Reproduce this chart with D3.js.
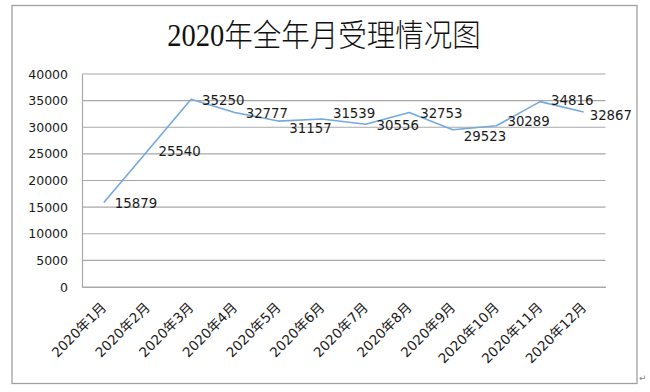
<!DOCTYPE html>
<html>
<head>
<meta charset="utf-8">
<script src="https://cdn.jsdelivr.net/npm/d3@7"></script>
<style>
  html, body { margin: 0; padding: 0; background: #fff; }
  svg { display: block; }
</style>
</head>
<body>
<svg id="chart" width="650" height="392"></svg>
<script>
// ---- data ----
const title = "2020年全年月受理情况图";
const months = ["2020年1月","2020年2月","2020年3月","2020年4月","2020年5月","2020年6月",
                "2020年7月","2020年8月","2020年9月","2020年10月","2020年11月","2020年12月"];
const values = [15879, 25540, 35250, 32777, 31157, 31539, 30556, 32753, 29523, 30289, 34816, 32867];
const yTicks = [0, 5000, 10000, 15000, 20000, 25000, 30000, 35000, 40000];

// ---- layout ----
const W = 650, H = 392;
const frame = { x: 12, y: 5.5, w: 625, h: 378 };
const plot = { left: 82, right: 605.5, top: 74, bottom: 287 };
const latin = "'DejaVu Sans', 'Noto Sans CJK SC', sans-serif";

const svg = d3.select("#chart");
svg.append("rect").attr("width", W).attr("height", H).attr("fill", "#fff");

// outer chart frame
svg.append("rect")
  .attr("x", frame.x).attr("y", frame.y)
  .attr("width", frame.w).attr("height", frame.h)
  .attr("fill", "none").attr("stroke", "#a0a0a0").attr("stroke-width", 1.3);

// title
svg.append("text")
  .attr("transform", "translate(324,46) scale(0.92,1)")
  .attr("text-anchor", "middle")
  .style("font-family", "'Liberation Serif', 'Noto Sans CJK SC', serif")
  .style("font-size", "31px")
  .style("font-weight", 300)
  .attr("fill", "#111")
  .text(title);

// scales
const x = d3.scaleBand().domain(months).range([plot.left, plot.right]).paddingInner(0).paddingOuter(0);
const y = d3.scaleLinear().domain([0, 40000]).range([plot.bottom, plot.top]);
const cx = d => x(d) + x.bandwidth() / 2;

// gridlines
svg.append("g")
  .selectAll("line").data(yTicks).join("line")
  .attr("x1", plot.left).attr("x2", plot.right)
  .attr("y1", d => y(d)).attr("y2", d => y(d))
  .attr("stroke", "#a8a8a8").attr("stroke-width", 1.2);

// y axis
const yAxis = d3.axisLeft(y).tickValues(yTicks).tickSize(0).tickPadding(14).tickFormat(d3.format("d"));
const gy = svg.append("g").attr("transform", `translate(${plot.left},0)`).call(yAxis);
gy.select(".domain").attr("stroke", "#a8a8a8").attr("stroke-width", 1.2);
gy.selectAll("text").style("font-family", latin).style("font-size", "12.5px").attr("fill", "#1a1a1a");

// x axis labels
const xAxis = d3.axisBottom(x).tickSize(0).tickPadding(0);
const gx = svg.append("g").attr("transform", `translate(0,${plot.bottom})`).call(xAxis);
gx.select(".domain").attr("stroke", "#a8a8a8").attr("stroke-width", 1.2);
gx.selectAll(".tick text")
  .style("font-family", latin).style("font-size", "13.6px").attr("fill", "#1a1a1a")
  .attr("text-anchor", "end")
  .attr("dy", "0.35em")
  .attr("transform", "translate(0,18) rotate(-45)")
  .attr("y", 0).attr("x", 0);

// line
const line = d3.line().x((d, i) => cx(months[i])).y(d => y(d));
svg.append("path").datum(values)
  .attr("d", line)
  .attr("fill", "none").attr("stroke", "#74a9dd").attr("stroke-width", 1.6)
  .attr("stroke-linejoin", "round");

// data labels (placed right of each point, kept inside the frame, nudged apart when colliding)
const lg = svg.append("g");
const labels = values.map((v, i) => {
  const t = lg.append("text")
    .style("font-family", latin).style("font-size", "13.3px").attr("fill", "#1a1a1a")
    .attr("dominant-baseline", "central")
    .text(v);
  const w = t.node().getComputedTextLength();
  let lx = cx(months[i]) + 11;
  const maxRight = frame.x + frame.w - 5;
  if (lx + w > maxRight) lx = maxRight - w;
  return { t, x: lx, w, y: y(v) + 1 };
});
for (let i = 0; i < labels.length - 1; i++) {
  const a = labels[i], b = labels[i + 1];
  const gap = b.x - (a.x + a.w);
  const dy = b.y - a.y;
  if (gap < 2 && Math.abs(dy) < 5 || gap < -2 && Math.abs(dy) < 15) {
    const need = 15 - Math.abs(dy);
    const lowerIsA = a.y >= b.y;
    if (lowerIsA) { a.y += need / 2; b.y -= need / 2; }
    else { a.y -= need / 2; b.y += need / 2; }
  }
}
labels.forEach(l => l.t.attr("x", l.x).attr("y", l.y));

// paragraph mark
svg.append("text").attr("x", 639).attr("y", 381)
  .style("font-family", latin).style("font-size", "9px").attr("fill", "#888")
  .text("↵");
</script>
</body>
</html>
